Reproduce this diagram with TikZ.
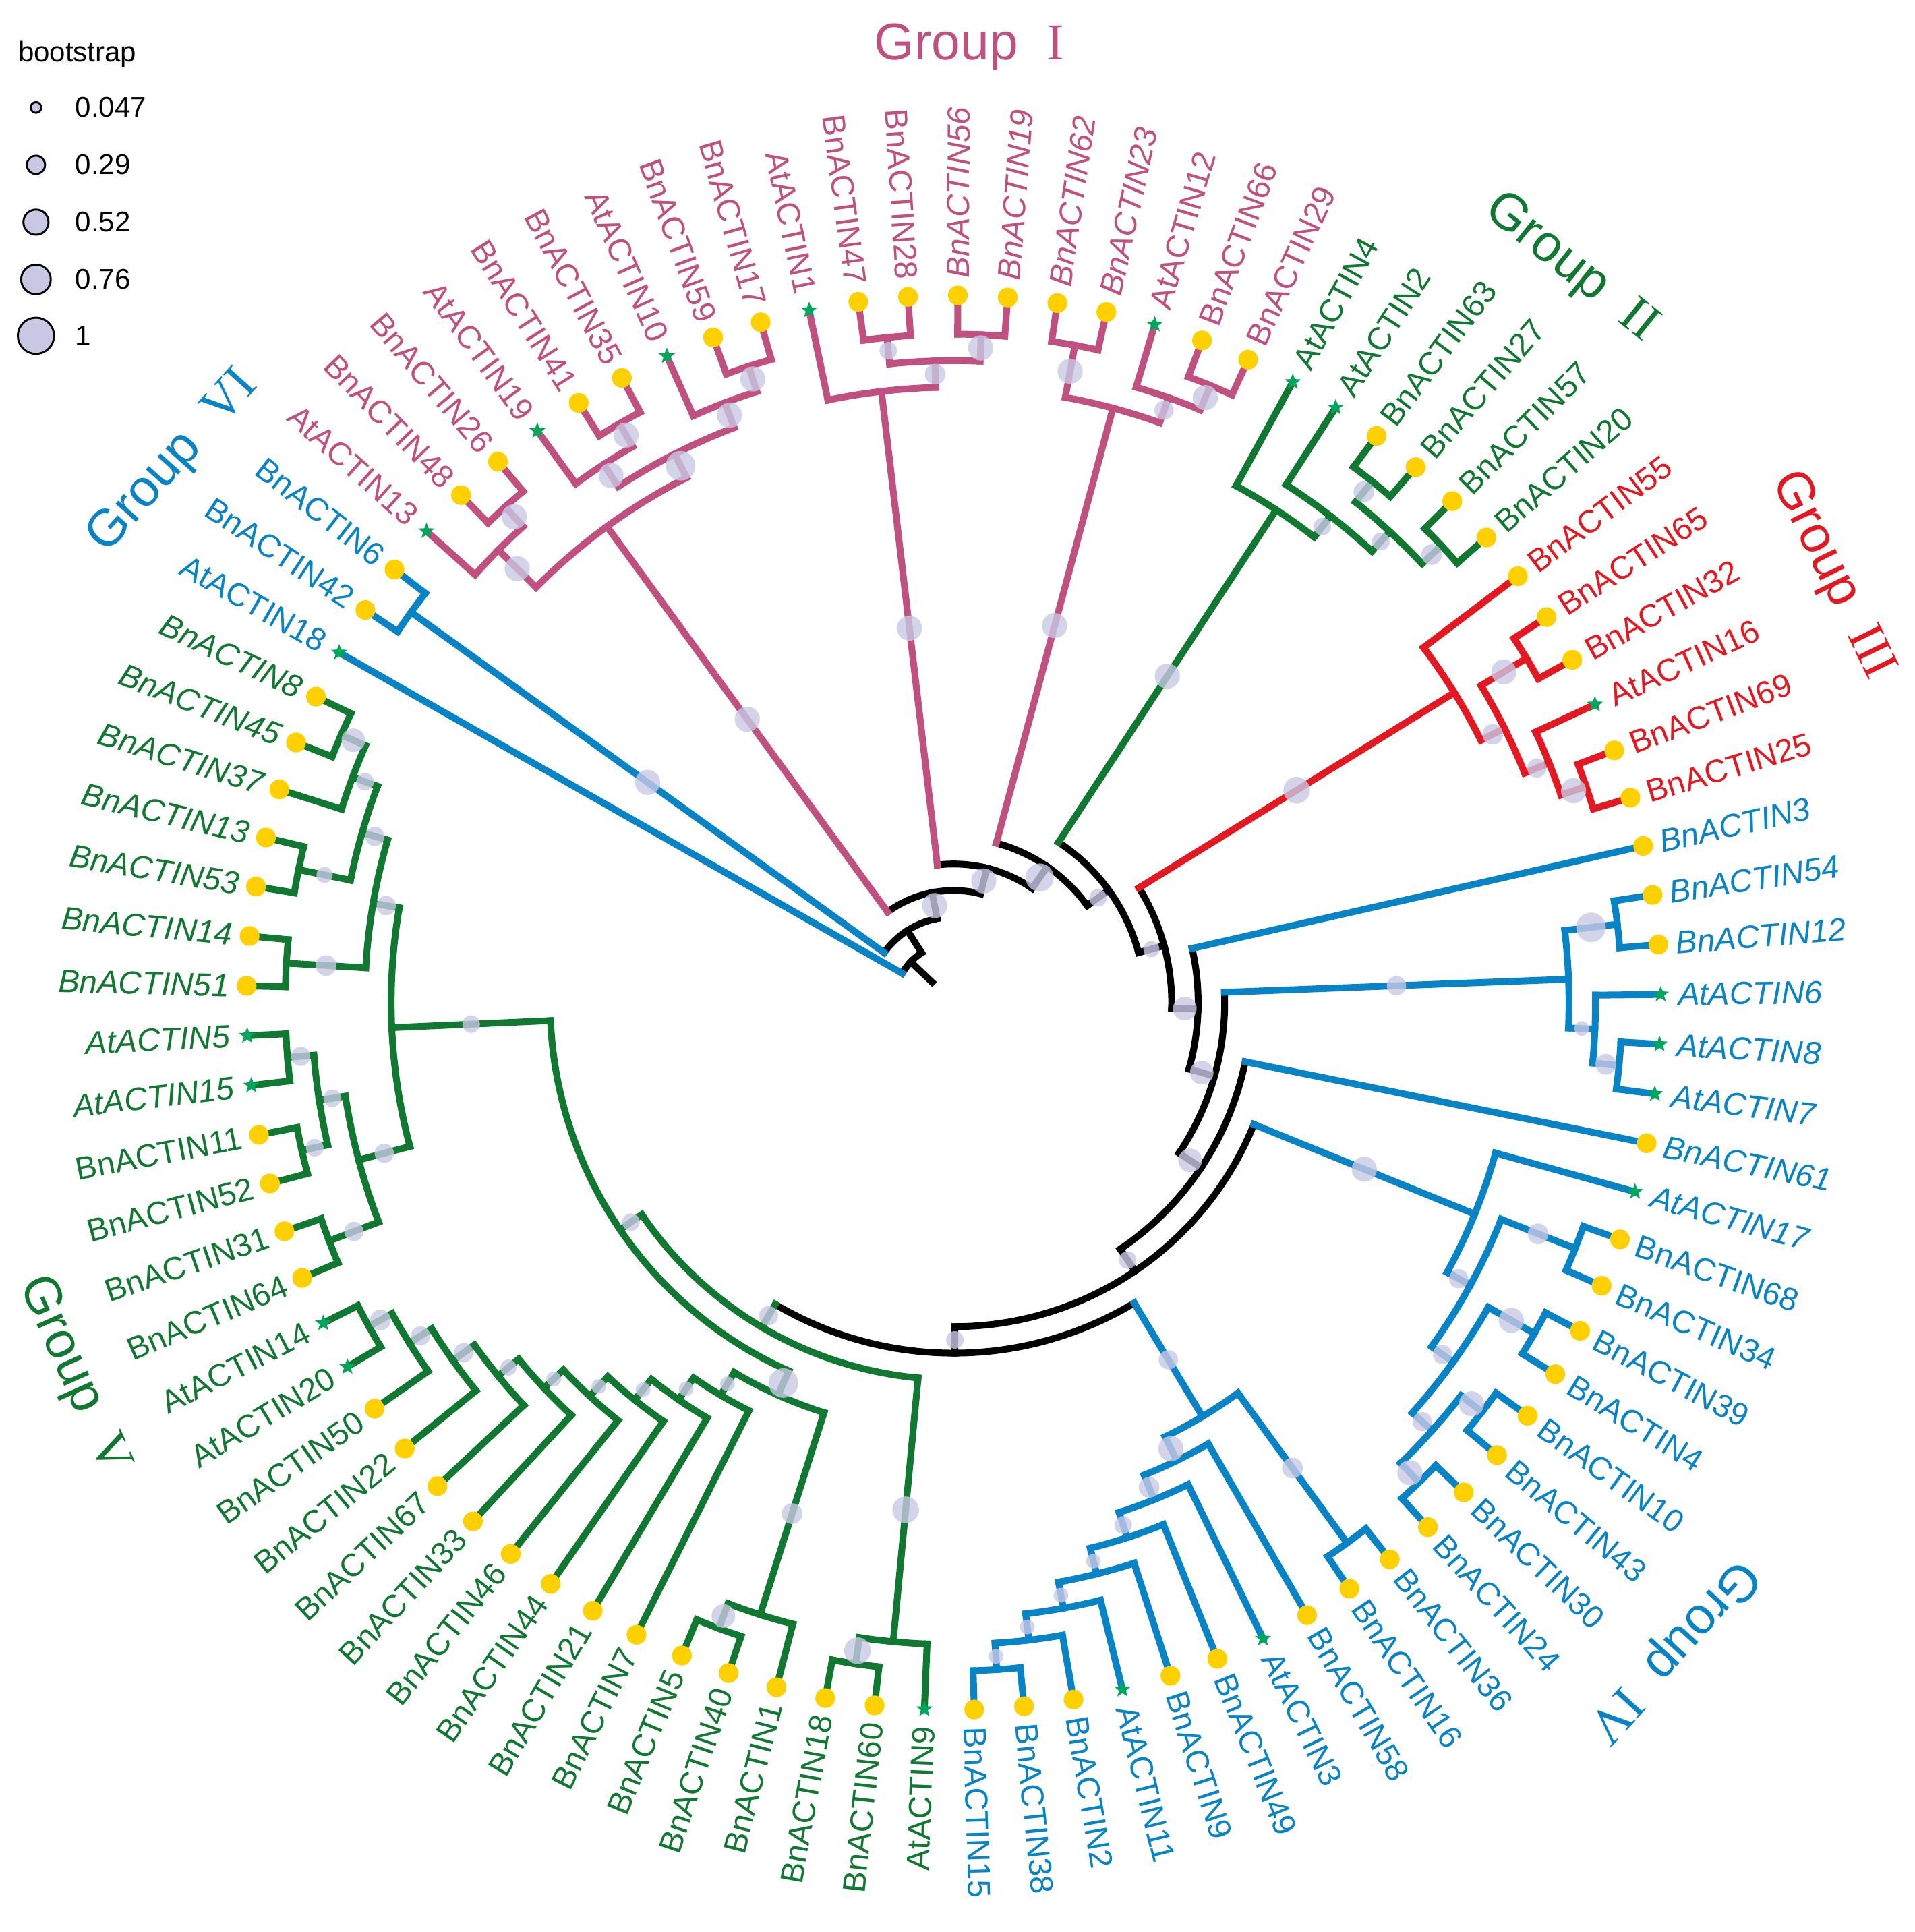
\documentclass[tikz,border=0pt]{standalone}
\usepackage{fontspec}
\setmainfont{Liberation Sans}
\newfontfamily\romanfont{Liberation Serif}
\usetikzlibrary{shapes.geometric}
\definecolor{grpMag}{RGB}{192,80,128}
\definecolor{grpGreen}{RGB}{16,120,48}
\definecolor{grpRed}{RGB}{228,24,32}
\definecolor{grpBlue}{RGB}{8,132,198}
\definecolor{tipYellow}{RGB}{255,208,0}
\definecolor{tipGreen}{RGB}{0,166,90}
\definecolor{bsFill}{RGB}{200,200,228}

% leaf slot -> angle, node height -> radius
\newcommand{\qang}[1]{150.33-4.045*(#1)}
\newcommand{\hrad}[1]{564-21.5*(#1)}
\newcommand{\tipH}{-0.4651}
\newcommand{\cladearc}[4]{\draw[#1] ({\qang{#3}}:{\hrad{#2}}) arc[start angle={\qang{#3}}, end angle={\qang{#4}}, radius={\hrad{#2}}];}
\newcommand{\cladestem}[4]{\draw[#1] ({\qang{#2}}:{\hrad{#3}}) -- ({\qang{#2}}:{\hrad{#4}});}
\newcommand{\joinnode}[6]{\cladearc{#1}{#2}{#3}{#5}\cladestem{#1}{#3}{#2}{#4}\cladestem{#1}{#5}{#2}{#6}}
\newcommand{\bootdot}[4]{\fill[bsdot] ({\qang{#1}}:{(\hrad{#2}+\hrad{#3})/2}) circle[radius={1.2*#4}];}

\begin{document}
\begin{tikzpicture}[x=1pt, y=1pt,
    branch/.style={line width=5.5, line cap=rect},
    bk/.style={branch, draw=black},
    gI/.style={branch, draw=grpMag},
    gG/.style={branch, draw=grpGreen},
    gR/.style={branch, draw=grpRed},
    gB/.style={branch, draw=grpBlue},
    bsdot/.style={fill=bsFill, fill opacity=0.8},
    tipdot/.style={circle, fill=tipYellow, minimum size=16, inner sep=0},
    tipstar/.style={star, star points=5, star point ratio=2.4, fill=tipGreen, minimum size=14, inner sep=0},
    leaflab/.style={font=\fontsize{26}{30}\selectfont, inner sep=0},
    grouplab/.style={font=\fontsize{42}{48}\selectfont, inner sep=0},
    legendlab/.style={font=\fontsize{23}{27}\selectfont, anchor=west, inner sep=0},
    legdot/.style={draw=black, line width=1.6, fill=bsFill}
]
\useasboundingbox (-774,-754.3) rectangle (780,813.7);

% Backbone
\draw[bk] ({\qang{3.419}}:24) -- ({\qang{3.419}}:{\hrad{24}});
\cladearc{bk}{24}{0}{6.838}
\cladestem{gB}{0}{24}{\tipH}
\cladestem{bk}{6.838}{24}{23}
\cladearc{bk}{23}{1.5}{12.175}
\cladestem{gB}{1.5}{23}{1}
\cladestem{bk}{12.175}{23}{22}
\cladearc{bk}{22}{6}{18.35}
\cladestem{gI}{6}{22}{4}
\cladestem{bk}{18.35}{22}{21}
\cladearc{bk}{21}{13.25}{23.45}
\cladestem{gI}{13.25}{21}{3}
\cladestem{bk}{23.45}{21}{20}
\cladearc{bk}{20}{18.625}{28.274}
\cladestem{gI}{18.625}{20}{3}
\cladestem{bk}{28.274}{20}{19}
\cladearc{bk}{19}{23.125}{33.422}
\cladestem{gG}{23.125}{19}{4}
\cladestem{bk}{33.422}{19}{18}
\cladearc{bk}{18}{29.313}{37.531}
\cladestem{gR}{29.313}{18}{4}
\cladestem{bk}{37.531}{18}{17}
\cladearc{bk}{17}{34}{41.061}
\cladestem{gB}{34}{17}{\tipH}
\cladestem{bk}{41.061}{17}{16}
\cladearc{bk}{16}{36.625}{45.497}
\cladestem{gB}{36.625}{16}{3}
\cladestem{bk}{45.497}{16}{15}
\cladearc{bk}{15}{40}{50.994}
\cladestem{gB}{40}{15}{\tipH}
\cladestem{bk}{50.994}{15}{14}
\cladearc{bk}{14}{42.625}{59.362}
\cladestem{gB}{42.625}{14}{5}
\cladestem{bk}{59.362}{14}{13}
\cladearc{bk}{13}{51.746}{66.977}
\cladestem{gB}{51.746}{13}{8}
\cladestem{gG}{66.977}{13}{12}

% Group VI
\joinnode{gB}{1}{1}{\tipH}{2}{\tipH}

% Group I
\joinnode{gI}{4}{3.75}{2}{8.25}{3}
\joinnode{gI}{2}{3}{\tipH}{4.5}{1}
\joinnode{gI}{1}{4}{\tipH}{5}{\tipH}
\joinnode{gI}{3}{6.75}{2}{9.75}{2}
\joinnode{gI}{2}{6}{\tipH}{7.5}{1}
\joinnode{gI}{1}{7}{\tipH}{8}{\tipH}
\joinnode{gI}{2}{9}{\tipH}{10.5}{1}
\joinnode{gI}{1}{10}{\tipH}{11}{\tipH}
\joinnode{gI}{3}{12}{\tipH}{14.5}{2}
\joinnode{gI}{2}{13.5}{1}{15.5}{1}
\joinnode{gI}{1}{13}{\tipH}{14}{\tipH}
\joinnode{gI}{1}{15}{\tipH}{16}{\tipH}
\joinnode{gI}{3}{17.5}{1}{19.75}{2}
\joinnode{gI}{1}{17}{\tipH}{18}{\tipH}
\joinnode{gI}{2}{19}{\tipH}{20.5}{1}
\joinnode{gI}{1}{20}{\tipH}{21}{\tipH}

% Group II
\joinnode{gG}{4}{22}{\tipH}{24.25}{3}
\joinnode{gG}{3}{23}{\tipH}{25.5}{2}
\joinnode{gG}{2}{24.5}{1}{26.5}{1}
\joinnode{gG}{1}{24}{\tipH}{25}{\tipH}
\joinnode{gG}{1}{26}{\tipH}{27}{\tipH}

% Group III
\joinnode{gR}{4}{28}{\tipH}{30.625}{3}
\joinnode{gR}{3}{29.5}{1}{31.75}{2}
\joinnode{gR}{1}{29}{\tipH}{30}{\tipH}
\joinnode{gR}{2}{31}{\tipH}{32.5}{1}
\joinnode{gR}{1}{32}{\tipH}{33}{\tipH}

% Group IV
\joinnode{gB}{3}{35.5}{1}{37.75}{2}
\joinnode{gB}{1}{35}{\tipH}{36}{\tipH}
\joinnode{gB}{2}{37}{\tipH}{38.5}{1}
\joinnode{gB}{1}{38}{\tipH}{39}{\tipH}
\joinnode{gB}{5}{41}{\tipH}{44.25}{4}
\joinnode{gB}{4}{42.5}{1}{46}{3}
\joinnode{gB}{1}{42}{\tipH}{43}{\tipH}
\joinnode{gB}{3}{44.5}{1}{47.5}{2}
\joinnode{gB}{1}{44}{\tipH}{45}{\tipH}
\joinnode{gB}{2}{46.5}{1}{48.5}{1}
\joinnode{gB}{1}{46}{\tipH}{47}{\tipH}
\joinnode{gB}{1}{48}{\tipH}{49}{\tipH}
\joinnode{gB}{8}{50.5}{1}{52.992}{7}
\joinnode{gB}{1}{50}{\tipH}{51}{\tipH}
\joinnode{gB}{7}{52}{\tipH}{53.984}{6}
\joinnode{gB}{6}{53}{\tipH}{54.969}{5}
\joinnode{gB}{5}{54}{\tipH}{55.938}{4}
\joinnode{gB}{4}{55}{\tipH}{56.875}{3}
\joinnode{gB}{3}{56}{\tipH}{57.75}{2}
\joinnode{gB}{2}{57}{\tipH}{58.5}{1}
\joinnode{gB}{1}{58}{\tipH}{59}{\tipH}

% Group V
\joinnode{gG}{12}{60.75}{2}{73.203}{11}
\joinnode{gG}{2}{60}{\tipH}{61.5}{1}
\joinnode{gG}{1}{61}{\tipH}{62}{\tipH}
\joinnode{gG}{11}{65.374}{10}{81.031}{5}
\joinnode{gG}{10}{63.75}{2}{66.998}{9}
\joinnode{gG}{2}{63}{\tipH}{64.5}{1}
\joinnode{gG}{1}{64}{\tipH}{65}{\tipH}
\joinnode{gG}{9}{66}{\tipH}{67.996}{8}
\joinnode{gG}{8}{67}{\tipH}{68.992}{7}
\joinnode{gG}{7}{68}{\tipH}{69.984}{6}
\joinnode{gG}{6}{69}{\tipH}{70.969}{5}
\joinnode{gG}{5}{70}{\tipH}{71.938}{4}
\joinnode{gG}{4}{71}{\tipH}{72.875}{3}
\joinnode{gG}{3}{72}{\tipH}{73.75}{2}
\joinnode{gG}{2}{73}{\tipH}{74.5}{1}
\joinnode{gG}{1}{74}{\tipH}{75}{\tipH}
\joinnode{gG}{5}{78}{3}{84.063}{4}
\joinnode{gG}{3}{76.5}{1}{79.5}{2}
\joinnode{gG}{1}{76}{\tipH}{77}{\tipH}
\joinnode{gG}{2}{78.5}{1}{80.5}{1}
\joinnode{gG}{1}{78}{\tipH}{79}{\tipH}
\joinnode{gG}{1}{80}{\tipH}{81}{\tipH}
\joinnode{gG}{4}{82.5}{1}{85.625}{3}
\joinnode{gG}{1}{82}{\tipH}{83}{\tipH}
\joinnode{gG}{3}{84.5}{1}{86.75}{2}
\joinnode{gG}{1}{84}{\tipH}{85}{\tipH}
\joinnode{gG}{2}{86}{\tipH}{87.5}{1}
\joinnode{gG}{1}{87}{\tipH}{88}{\tipH}

% Bootstrap support
\bootdot{12.175}{23}{22}{8.5}
\bootdot{18.35}{22}{21}{8.5}
\bootdot{23.45}{21}{20}{9.5}
\bootdot{28.274}{20}{19}{6}
\bootdot{33.422}{19}{18}{5.5}
\bootdot{37.531}{18}{17}{8}
\bootdot{41.061}{17}{16}{8}
\bootdot{45.497}{16}{15}{8}
\bootdot{50.994}{15}{14}{6}
\bootdot{59.362}{14}{13}{6}
\bootdot{1.5}{23}{1}{8.5}
\bootdot{6}{22}{4}{8.5}
\bootdot{3.75}{4}{2}{8.5}
\bootdot{4.5}{2}{1}{8.5}
\bootdot{8.25}{4}{3}{10}
\bootdot{6.75}{3}{2}{8.5}
\bootdot{7.5}{2}{1}{8.5}
\bootdot{9.75}{3}{2}{8.5}
\bootdot{10.5}{2}{1}{8.5}
\bootdot{13.25}{21}{3}{8.5}
\bootdot{14.5}{3}{2}{7}
\bootdot{13.5}{2}{1}{6}
\bootdot{15.5}{2}{1}{8.5}
\bootdot{18.625}{20}{3}{8.5}
\bootdot{17.5}{3}{1}{8.5}
\bootdot{19.75}{3}{2}{6.5}
\bootdot{20.5}{2}{1}{8.5}
\bootdot{23.125}{19}{4}{8.5}
\bootdot{24.25}{4}{3}{6}
\bootdot{25.5}{3}{2}{6}
\bootdot{24.5}{2}{1}{7}
\bootdot{26.5}{2}{1}{7}
\bootdot{29.313}{18}{4}{9}
\bootdot{30.625}{4}{3}{7}
\bootdot{29.5}{3}{1}{8.5}
\bootdot{31.75}{3}{2}{6.5}
\bootdot{32.5}{2}{1}{8.5}
\bootdot{36.625}{16}{3}{6.5}
\bootdot{35.5}{3}{1}{10}
\bootdot{37.75}{3}{2}{5}
\bootdot{38.5}{2}{1}{7}
\bootdot{42.625}{14}{5}{8.5}
\bootdot{44.25}{5}{4}{6.5}
\bootdot{42.5}{4}{1}{7}
\bootdot{46}{4}{3}{6.5}
\bootdot{44.5}{3}{1}{8.5}
\bootdot{47.5}{3}{2}{6.5}
\bootdot{46.5}{2}{1}{8.5}
\bootdot{48.5}{2}{1}{8.5}
\bootdot{51.746}{13}{8}{6.5}
\bootdot{50.5}{8}{1}{7}
\bootdot{52.992}{8}{7}{8.5}
\bootdot{53.984}{7}{6}{7}
\bootdot{54.969}{6}{5}{6}
\bootdot{55.938}{5}{4}{5}
\bootdot{56.875}{4}{3}{5}
\bootdot{57.75}{3}{2}{5}
\bootdot{58.5}{2}{1}{5}
\bootdot{66.977}{13}{12}{6.5}
\bootdot{60.75}{12}{2}{9}
\bootdot{61.5}{2}{1}{9}
\bootdot{73.203}{12}{11}{6}
\bootdot{65.374}{11}{10}{10}
\bootdot{63.75}{10}{2}{7}
\bootdot{64.5}{2}{1}{8}
\bootdot{66.998}{10}{9}{5}
\bootdot{67.996}{9}{8}{5}
\bootdot{68.992}{8}{7}{5}
\bootdot{69.984}{7}{6}{5}
\bootdot{70.969}{6}{5}{5}
\bootdot{71.938}{5}{4}{5.5}
\bootdot{72.875}{4}{3}{6.5}
\bootdot{73.75}{3}{2}{6.5}
\bootdot{74.5}{2}{1}{7}
\bootdot{81.031}{11}{5}{6}
\bootdot{84.063}{5}{4}{6.5}
\bootdot{78}{5}{3}{6.5}
\bootdot{85.625}{4}{3}{6.5}
\bootdot{82.5}{4}{1}{7}
\bootdot{86.75}{3}{2}{6}
\bootdot{84.5}{3}{1}{5.5}
\bootdot{87.5}{2}{1}{8}
\bootdot{79.5}{3}{2}{6}
\bootdot{76.5}{3}{1}{6.5}
\bootdot{78.5}{2}{1}{6}
\bootdot{80.5}{2}{1}{6.5}

% Tips and labels
\foreach \q/\nm/\isat/\col/\ital in {
  0/AtACTIN18/1/grpBlue/0, 1/BnACTIN42/0/grpBlue/0, 2/BnACTIN6/0/grpBlue/0,
  3/AtACTIN13/1/grpMag/0, 4/BnACTIN48/0/grpMag/0, 5/BnACTIN26/0/grpMag/0,
  6/AtACTIN19/1/grpMag/0, 7/BnACTIN41/0/grpMag/0, 8/BnACTIN35/0/grpMag/0,
  9/AtACTIN10/1/grpMag/0, 10/BnACTIN59/0/grpMag/0, 11/BnACTIN17/0/grpMag/0,
  12/AtACTIN1/1/grpMag/0, 13/BnACTIN47/0/grpMag/0, 14/BnACTIN28/0/grpMag/0,
  15/BnACTIN56/0/grpMag/1, 16/BnACTIN19/0/grpMag/1, 17/BnACTIN62/0/grpMag/1,
  18/BnACTIN23/0/grpMag/1, 19/AtACTIN12/1/grpMag/0, 20/BnACTIN66/0/grpMag/0,
  21/BnACTIN29/0/grpMag/0,
  22/AtACTIN4/1/grpGreen/0, 23/AtACTIN2/1/grpGreen/0, 24/BnACTIN63/0/grpGreen/0,
  25/BnACTIN27/0/grpGreen/0, 26/BnACTIN57/0/grpGreen/0, 27/BnACTIN20/0/grpGreen/0,
  28/BnACTIN55/0/grpRed/0, 29/BnACTIN65/0/grpRed/0, 30/BnACTIN32/0/grpRed/0,
  31/AtACTIN16/1/grpRed/0, 32/BnACTIN69/0/grpRed/0, 33/BnACTIN25/0/grpRed/0,
  34/BnACTIN3/0/grpBlue/1, 35/BnACTIN54/0/grpBlue/1, 36/BnACTIN12/0/grpBlue/1,
  37/AtACTIN6/1/grpBlue/1, 38/AtACTIN8/1/grpBlue/1, 39/AtACTIN7/1/grpBlue/1,
  40/BnACTIN61/0/grpBlue/1, 41/AtACTIN17/1/grpBlue/1, 42/BnACTIN68/0/grpBlue/0,
  43/BnACTIN34/0/grpBlue/0, 44/BnACTIN39/0/grpBlue/0, 45/BnACTIN4/0/grpBlue/0,
  46/BnACTIN10/0/grpBlue/0, 47/BnACTIN43/0/grpBlue/0, 48/BnACTIN30/0/grpBlue/0,
  49/BnACTIN24/0/grpBlue/0, 50/BnACTIN36/0/grpBlue/0, 51/BnACTIN16/0/grpBlue/0,
  52/BnACTIN58/0/grpBlue/0, 53/AtACTIN3/1/grpBlue/0, 54/BnACTIN49/0/grpBlue/0,
  55/BnACTIN9/0/grpBlue/0, 56/AtACTIN11/1/grpBlue/0, 57/BnACTIN2/0/grpBlue/0,
  58/BnACTIN38/0/grpBlue/0, 59/BnACTIN15/0/grpBlue/0,
  60/AtACTIN9/1/grpGreen/0, 61/BnACTIN60/0/grpGreen/0, 62/BnACTIN18/0/grpGreen/0,
  63/BnACTIN1/0/grpGreen/0, 64/BnACTIN40/0/grpGreen/0, 65/BnACTIN5/0/grpGreen/0,
  66/BnACTIN7/0/grpGreen/0, 67/BnACTIN21/0/grpGreen/0, 68/BnACTIN44/0/grpGreen/0,
  69/BnACTIN46/0/grpGreen/0, 70/BnACTIN33/0/grpGreen/0, 71/BnACTIN67/0/grpGreen/0,
  72/BnACTIN22/0/grpGreen/0, 73/BnACTIN50/0/grpGreen/0, 74/AtACTIN20/1/grpGreen/0,
  75/AtACTIN14/1/grpGreen/0, 76/BnACTIN64/0/grpGreen/0, 77/BnACTIN31/0/grpGreen/0,
  78/BnACTIN52/0/grpGreen/0, 79/BnACTIN11/0/grpGreen/0, 80/AtACTIN15/1/grpGreen/1,
  81/AtACTIN5/1/grpGreen/1, 82/BnACTIN51/0/grpGreen/1, 83/BnACTIN14/0/grpGreen/1,
  84/BnACTIN53/0/grpGreen/1, 85/BnACTIN13/0/grpGreen/1, 86/BnACTIN37/0/grpGreen/1,
  87/BnACTIN45/0/grpGreen/1, 88/BnACTIN8/0/grpGreen/1} {
  \pgfmathsetmacro\a{150.33-4.045*\q}
  \pgfmathsetmacro\flip{\a+180}
  \pgfmathtruncatemacro\rside{cos(\a)>=0 ? 1 : 0}
  \ifnum\isat=1
    \node[tipstar] (t\nm) at (\a:574) {};
  \else
    \node[tipdot] (t\nm) at (\a:574) {};
  \fi
  \ifnum\rside=1
    \node[leaflab, text=\col, rotate=\a, anchor=west] (l\nm) at (\a:588) {\ifnum\ital=1 \itshape\fi\nm};
  \else
    \node[leaflab, text=\col, rotate=\flip, anchor=east] (l\nm) at (\a:588) {\ifnum\ital=1 \itshape\fi\nm};
  \fi
}

% Group titles
\node[grouplab, text=grpMag] (titleI) at (12.5,775.7) {Group\hspace{0.55em}{\romanfont I}};
\node[grouplab, text=grpGreen, rotate=-38.6] (titleII) at (501,596.2) {Group\hspace{0.55em}{\romanfont II}};
\node[grouplab, text=grpRed, rotate=-64] (titleIII) at (713,346.7) {Group\hspace{0.55em}{\romanfont III}};
\node[grouplab, text=grpBlue, rotate=-132.5] (titleIV) at (583,-525.3) {Group\hspace{0.55em}{\romanfont IV}};
\node[grouplab, text=grpGreen, rotate=-66] (titleV) at (-714.5,-302.3) {Group\hspace{0.55em}{\romanfont V}};
\node[grouplab, text=grpBlue, rotate=48] (titleVI) at (-633.5,438.7) {Group\hspace{0.55em}{\romanfont VI}};

% Legend
\node[legendlab] (bslab) at (-759.4,769.4) {bootstrap};
\foreach \y/\r/\v [count=\i] in {726.5/4.3/0.047, 679.9/7.4/0.29, 633.4/10.2/0.52, 586.9/12/0.76, 541.2/14.7/1} {
  \draw[legdot] (-744.8,\y) circle[radius=\r];
  \node[legendlab] (leg\i) at (-713,\y) {\v};
}

\end{tikzpicture}
\end{document}
